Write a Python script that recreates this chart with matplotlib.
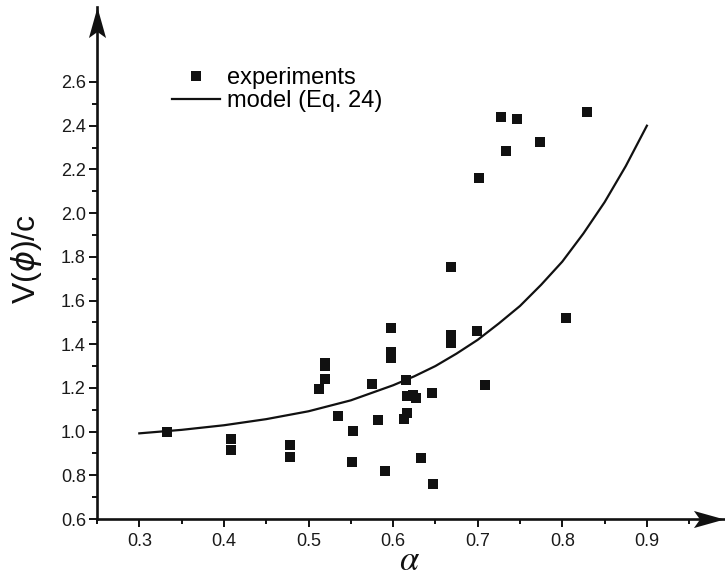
import numpy as np
import matplotlib.pyplot as plt
from matplotlib.path import Path
from matplotlib.ticker import FixedLocator

plt.rcParams['font.family'] = ['Liberation Sans', 'DejaVu Sans']

# experimental points (alpha, V(phi)/c)
exp_alpha = [0.333, 0.408, 0.408, 0.478, 0.478, 0.513, 0.520, 0.520, 0.520,
             0.535, 0.551, 0.553, 0.575, 0.582, 0.591, 0.598, 0.598, 0.598,
             0.613, 0.615, 0.616, 0.617, 0.624, 0.627, 0.633, 0.646, 0.647,
             0.668, 0.668, 0.668, 0.668, 0.699, 0.701, 0.709, 0.728, 0.733,
             0.746, 0.774, 0.804, 0.829]
exp_v = [1.000, 0.966, 0.916, 0.939, 0.882, 1.196, 1.239, 1.315, 1.300,
         1.073, 0.859, 1.004, 1.219, 1.053, 0.821, 1.473, 1.364, 1.337,
         1.059, 1.235, 1.162, 1.085, 1.168, 1.155, 0.878, 1.177, 0.759,
         1.441, 1.420, 1.404, 1.752, 1.462, 2.162, 1.215, 2.438, 2.284,
         2.429, 2.324, 1.520, 2.463]

# model curve (Eq. 24)
model_alpha = [0.30, 0.35, 0.40, 0.45, 0.50, 0.55, 0.60, 0.625, 0.65, 0.675,
               0.70, 0.725, 0.75, 0.775, 0.80, 0.825, 0.85, 0.875, 0.90]
model_v = [0.992, 1.008, 1.029, 1.057, 1.093, 1.143, 1.212, 1.253, 1.300, 1.357,
           1.420, 1.495, 1.575, 1.672, 1.778, 1.907, 2.050, 2.215, 2.400]

x_major = [0.3, 0.4, 0.5, 0.6, 0.7, 0.8, 0.9]
x_minor = [0.25, 0.35, 0.45, 0.55, 0.65, 0.75, 0.85, 0.95]
y_major = [0.6, 0.8, 1.0, 1.2, 1.4, 1.6, 1.8, 2.0, 2.2, 2.4, 2.6]
y_minor = [0.7, 0.9, 1.1, 1.3, 1.5, 1.7, 1.9, 2.1, 2.3, 2.5]

W, H = 725, 577
fig = plt.figure(figsize=(W / 100, H / 100), dpi=100)
ax = fig.add_axes([97 / W, 58 / H, (724 - 97) / W, (570 - 58) / H])

ax.set_xlim(0.25, 0.25 + (724 - 97) / 846)
ax.set_ylim(0.6, 0.6 + (570 - 58) / 218.5)

ink = '#111111'
ax.plot(exp_alpha, exp_v, 's', color=ink, ms=6.5, mew=0, label='experiments')
ax.plot(model_alpha, model_v, '-', color=ink, lw=1.6, label='model (Eq. 24)')

for s in ['top', 'right']:
    ax.spines[s].set_visible(False)
for s in ['left', 'bottom']:
    ax.spines[s].set_linewidth(1.9)
    ax.spines[s].set_color(ink)

ax.xaxis.set_major_locator(FixedLocator(x_major))
ax.xaxis.set_minor_locator(FixedLocator(x_minor))
ax.yaxis.set_major_locator(FixedLocator(y_major))
ax.yaxis.set_minor_locator(FixedLocator(y_minor))
ax.set_xticklabels([f'{v:.1f}' for v in x_major])
ax.set_yticklabels([f'{v:.1f}' for v in y_major])
ax.tick_params(which='major', length=6, width=1.4, color=ink, labelsize=13,
               labelcolor='#1a1a1a')
ax.tick_params(which='minor', length=3.5, width=1.4, color=ink)
ax.tick_params(axis='x', which='major', pad=4)
ax.tick_params(axis='y', which='major', pad=2)

# arrow heads on the axes
up = Path([(0, 0), (0.28, -1), (0, -0.8), (-0.28, -1), (0, 0)],
          [Path.MOVETO, Path.LINETO, Path.LINETO, Path.LINETO, Path.CLOSEPOLY])
right = Path([(0, 0), (-1, 0.28), (-0.8, 0), (-1, -0.28), (0, 0)],
             [Path.MOVETO, Path.LINETO, Path.LINETO, Path.LINETO, Path.CLOSEPOLY])
ax.plot([0], [1], marker=up, ms=44, color=ink, mew=0,
        transform=ax.transAxes, clip_on=False)
ax.plot([1], [0], marker=right, ms=44, color=ink, mew=0,
        transform=ax.transAxes, clip_on=False)

ax.legend(loc='upper left', bbox_to_anchor=(172 / W, 1 - 67 / H),
          bbox_transform=fig.transFigure, frameon=False, fontsize=17,
          handlelength=2.05, handletextpad=0.3, labelspacing=0.05,
          borderpad=0, borderaxespad=0, numpoints=1)

fig.text(26 / W, 1 - 259 / H, 'V($\\phi$)/c', rotation=90, fontsize=23,
         ha='center', va='center', color=ink)
fig.text(410 / W, 0.0, '$\\alpha$', math_fontfamily='stix',
         fontsize=25, ha='center', va='bottom', color=ink)

fig.savefig('out.png', dpi=100)
